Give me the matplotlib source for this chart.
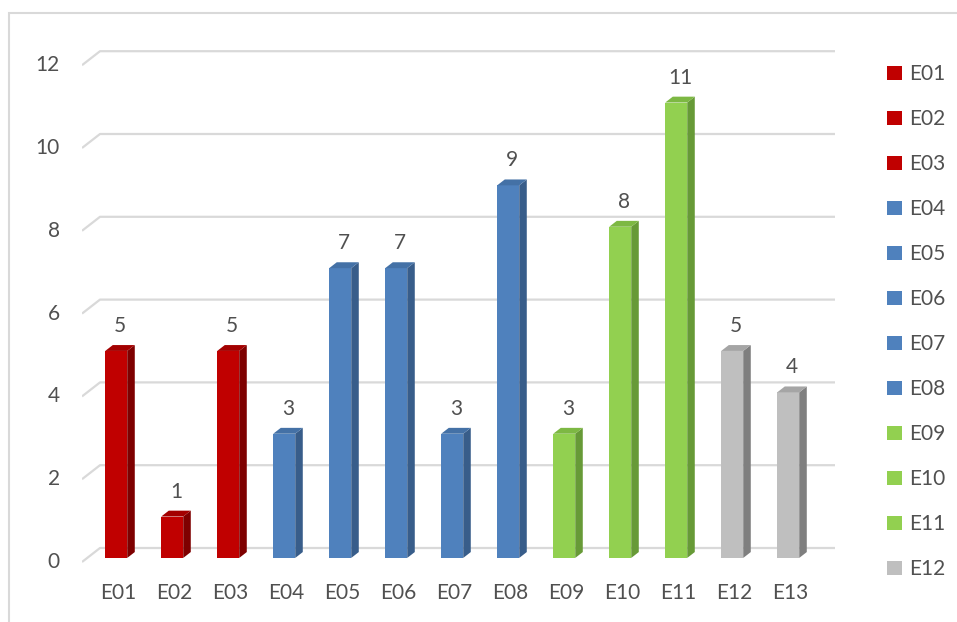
import matplotlib.pyplot as plt
from matplotlib.patches import Polygon, Rectangle, Patch

plt.rcParams['font.family'] = ['Lato', 'DejaVu Sans']

# данные
categories = ['E01', 'E02', 'E03', 'E04', 'E05', 'E06', 'E07',
              'E08', 'E09', 'E10', 'E11', 'E12', 'E13']
values = [5, 1, 5, 3, 7, 7, 3, 9, 3, 8, 11, 5, 4]
groups = ['red', 'red', 'red', 'blue', 'blue', 'blue', 'blue',
          'blue', 'green', 'green', 'green', 'grey', 'grey']
legend_names = categories[:12]
y_ticks = [0, 2, 4, 6, 8, 10, 12]

# цвета граней: передняя, боковая, верхняя
palette = {
    'red': ('#C00000', '#7E0000', '#A30000'),
    'blue': ('#4F81BD', '#385D8A', '#4471A6'),
    'green': ('#92D050', '#679A37', '#7DB843'),
    'grey': ('#BFBFBF', '#7F7F7F', '#A5A5A5'),
}
text_color = '#505050'
grid_color = '#D9D9D9'
fs = 15

W, H = 957, 622
fig = plt.figure(figsize=(W / 100, H / 100), dpi=100)

# оси в пикселях: x = 111 + 56*i, y = 562 - 41.4*v
px_x, px_y = 56.0, 41.4
x0_pix, y0_pix = 111.0, 562.0
left_pix, right_pix, top_pix, bottom_pix = 82.0, 840.0, 30.0, 570.0
ax = fig.add_axes([left_pix / W, 1 - bottom_pix / H,
                   (right_pix - left_pix) / W, (bottom_pix - top_pix) / H])
ax.set_xlim((left_pix - x0_pix) / px_x, (right_pix - x0_pix) / px_x)
ax.set_ylim((y0_pix - bottom_pix) / px_y, (y0_pix - top_pix) / px_y)
ax.axis('off')

# сдвиг по глубине (на единицу глубины)
ddx, ddy = 18 / px_x, 14 / px_y

# сетка на задней стенке со скошенным отрезком слева
xl = (left_pix - x0_pix) / px_x
xr = (835 - x0_pix) / px_x
for v in y_ticks:
    ax.plot([xl, xl + ddx, xr], [v, v + ddy, v + ddy],
            color=grid_color, lw=1.6, solid_capstyle='butt', zorder=1)
    ax.text(xl - 22 / px_x, v, str(v), ha='right', va='center',
            fontsize=fs, color=text_color)

# столбцы с объёмом
bw = 22 / px_x
d_front, d_back = 0.29, 0.71
for i, (name, v, g) in enumerate(zip(categories, values, groups)):
    front, side, top = palette[g]
    fx = i + d_front * ddx
    fy = d_front * ddy
    ax.bar(fx, v, width=bw, bottom=fy, color=front, zorder=3)
    sx, sy = (d_back - d_front) * ddx, (d_back - d_front) * ddy
    x1, x2 = fx - bw / 2, fx + bw / 2
    ax.add_patch(Polygon([(x2, fy), (x2 + sx, fy + sy), (x2 + sx, fy + v + sy), (x2, fy + v)],
                         closed=True, color=side, lw=0, zorder=3))
    ax.add_patch(Polygon([(x1, fy + v), (x1 + sx, fy + v + sy), (x2 + sx, fy + v + sy), (x2, fy + v)],
                         closed=True, color=top, lw=0, zorder=3))
    ax.text(fx + sx / 2, fy + v + 25 / px_y, str(v), ha='center', va='center',
            fontsize=fs, color=text_color)
    ax.text(i + 7 / px_x, -31 / px_y, name, ha='center', va='center',
            fontsize=fs, color=text_color)

# легенда
handles = [Patch(facecolor=palette[g][0], edgecolor='none') for g in groups[:12]]
fig.legend(handles, legend_names, loc='upper left', bbox_to_anchor=(879 / W, 1 - 56 / H),
           frameon=False, fontsize=fs, labelcolor=text_color, handlelength=0.7,
           handleheight=0.7, handletextpad=0.35, labelspacing=1.2, borderaxespad=0)

# рамка области диаграммы
fig.add_artist(Rectangle((9 / W, -0.1), 1.2, 1.1 - 13 / H, transform=fig.transFigure,
                         fill=False, edgecolor='#D9D9D9', lw=1.5))

fig.savefig('out.png', dpi=100)
